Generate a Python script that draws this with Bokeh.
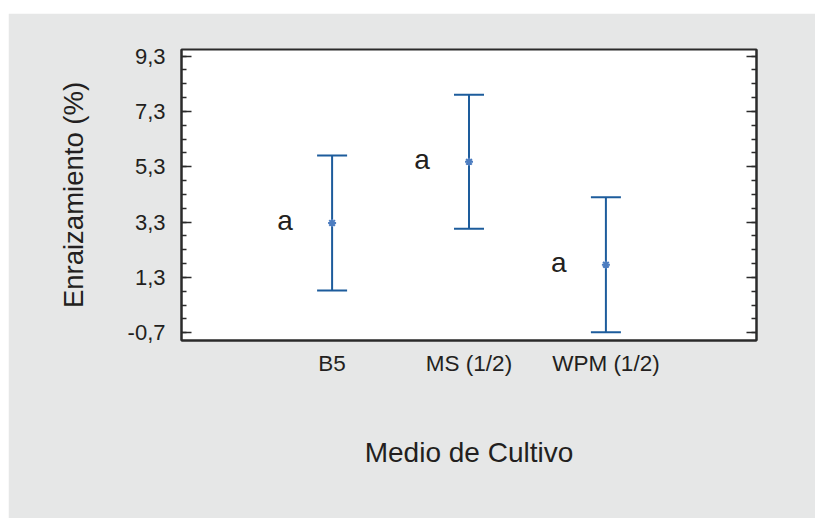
from bokeh.plotting import figure
from bokeh.models import (Range1d, FixedTicker, LinearAxis, Whisker, TeeHead,
                          ColumnDataSource, Spacer)
from bokeh.layouts import column, row
from bokeh.core.properties import value
from bokeh.embed import file_html
from bokeh.resources import INLINE

# ---- data ----
categories = ["B5", "MS (1/2)", "WPM (1/2)"]
positions = [1, 2, 3]
means = [3.27, 5.48, 1.76]
lower = [0.83, 3.06, -0.68]
upper = [5.71, 7.90, 4.20]
letters = ["a", "a", "a"]
y_ticks = [-0.7, 1.3, 3.3, 5.3, 7.3, 9.3]
y_tick_labels = ["-0,7", "1,3", "3,3", "5,3", "7,3", "9,3"]
y_minor = [-0.7 + 0.5 * i for i in range(21)]

BG = "#e6e7e7"
AX = "#2b2b2b"
TXT = "#231f20"
BAR = "#1d5c9c"
MEAN = "#4d7dc0"
FONT = "Liberation Sans"

src = ColumnDataSource(dict(x=positions, mean=means, lower=lower, upper=upper,
                            letter=letters))

p = figure(width=807, height=505,
           x_range=Range1d(-0.1, 4.1), y_range=Range1d(-0.98, 9.54),
           output_backend="svg", toolbar_location=None,
           min_border_left=173, min_border_right=59,
           min_border_top=36, min_border_bottom=178)
p.border_fill_color = BG
p.background_fill_color = "white"
p.outline_line_color = AX
p.outline_line_width = 2
p.xgrid.visible = False
p.ygrid.visible = False

# y axis (left)
yax = p.yaxis[0]
yax.ticker = FixedTicker(ticks=y_ticks, minor_ticks=y_minor)
yax.major_label_overrides = {t: l for t, l in zip(y_ticks, y_tick_labels)}
yax.major_tick_in = 10
yax.major_tick_out = 0
yax.minor_tick_in = 5
yax.minor_tick_out = 0
yax.major_tick_line_color = AX
yax.minor_tick_line_color = AX
yax.major_tick_line_width = 1.5
yax.minor_tick_line_width = 1.5
yax.axis_line_color = AX
yax.axis_line_width = 2
yax.major_label_text_font = FONT
yax.major_label_text_font_size = "22px"
yax.major_label_text_color = TXT
yax.major_label_standoff = 16
yax.axis_label = "Enraizamiento (%)"
yax.axis_label_text_font = FONT
yax.axis_label_text_font_size = "27.5px"
yax.axis_label_text_font_style = "normal"
yax.axis_label_text_color = TXT
yax.axis_label_standoff = 36

# right axis (ticks only)
rax = LinearAxis(ticker=FixedTicker(ticks=y_ticks, minor_ticks=y_minor),
                 major_tick_in=10, major_tick_out=0,
                 minor_tick_in=5, minor_tick_out=0,
                 major_tick_line_color=AX, minor_tick_line_color=AX,
                 major_tick_line_width=1.5, minor_tick_line_width=1.5,
                 axis_line_color=AX, axis_line_width=2,
                 major_label_text_color=None, major_label_text_font_size="1px")
p.add_layout(rax, "right")

# x axis (bottom)
xax = p.xaxis[0]
xax.ticker = FixedTicker(ticks=positions, minor_ticks=[])
xax.major_label_overrides = {t: c for t, c in zip(positions, categories)}
xax.major_tick_line_color = None
xax.minor_tick_line_color = None
xax.axis_line_color = AX
xax.axis_line_width = 2
xax.major_label_text_font = FONT
xax.major_label_text_font_size = "22.5px"
xax.major_label_text_color = TXT
xax.major_label_standoff = 4
xax.axis_label = "Medio de Cultivo"
xax.axis_label_text_font = FONT
xax.axis_label_text_font_size = "28px"
xax.axis_label_text_font_style = "normal"
xax.axis_label_text_color = TXT
xax.axis_label_standoff = 58

# error bars
w = Whisker(base="x", upper="upper", lower="lower", source=src,
            line_color=BAR, line_width=2,
            upper_head=TeeHead(size=30, line_color=BAR, line_width=2),
            lower_head=TeeHead(size=30, line_color=BAR, line_width=2))
p.add_layout(w)

# means
p.scatter("x", "mean", source=src, marker="asterisk", size=8,
          line_color=MEAN, line_width=2)

# group letters
p.text("x", "mean", text="letter", source=src, x_offset=-47, y_offset=-2,
       text_align="center", text_baseline="middle",
       text_font=value(FONT), text_font_size="28px", text_color=TXT)

layout = row(Spacer(width=8, height=518),
             column(Spacer(height=13, width=807), p, spacing=0),
             spacing=0)
open("out.html", "w").write(file_html(layout, INLINE))
